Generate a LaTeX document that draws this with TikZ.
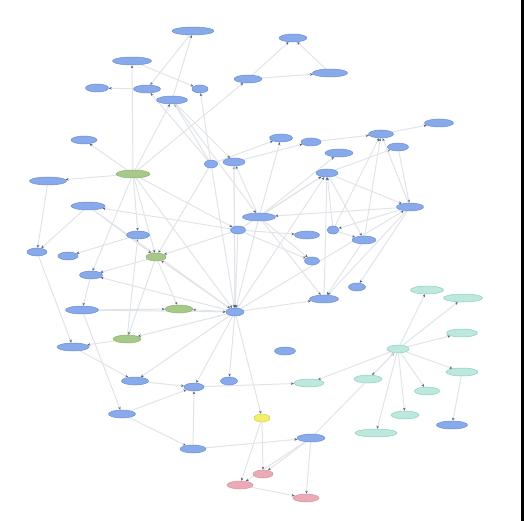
\documentclass[tikz,border=0pt]{standalone}
\usetikzlibrary{shapes.geometric,arrows.meta}
\pgfdeclarelayer{background}
\pgfsetlayers{background,main}
\definecolor{bfill}{HTML}{88AAEA}
\definecolor{bdraw}{HTML}{6C8ED6}
\definecolor{gfill}{HTML}{A6C98A}
\definecolor{gdraw}{HTML}{8DB470}
\definecolor{tfill}{HTML}{BDE8DE}
\definecolor{tdraw}{HTML}{8FCFC0}
\definecolor{pfill}{HTML}{EAAAB6}
\definecolor{pdraw}{HTML}{D8909E}
\definecolor{yfill}{HTML}{F2F06A}
\definecolor{ydraw}{HTML}{D6D24A}
\definecolor{edgec}{HTML}{E0E4E8}
\definecolor{tipc}{HTML}{55617C}
\tikzset{
  nd/.style={ellipse, inner sep=0pt, minimum height=8pt, line width=0.5pt},
  bn/.style={nd, fill=bfill, draw=bdraw},
  gn/.style={nd, fill=gfill, draw=gdraw},
  tn/.style={nd, fill=tfill, draw=tdraw},
  pn/.style={nd, fill=pfill, draw=pdraw},
  yn/.style={nd, fill=yfill, draw=ydraw},
  ed/.style={draw=edgec, line width=1pt, -{Stealth[length=3pt,width=2.6pt,color=tipc]}}
}
\begin{document}
\begin{tikzpicture}[x=1pt,y=-1pt]
\useasboundingbox (0,0) rectangle (524,521);
\fill[black] (521,0) rectangle (524,521);
% blue nodes
\node[bn, minimum width=42pt] (n1) at (193,31) {};
\node[bn, minimum width=39pt] (n2) at (132,61) {};
\node[bn, minimum width=23pt] (n3) at (97,88) {};
\node[bn, minimum width=27pt] (n4) at (147,89) {};
\node[bn, minimum width=16pt] (n5) at (200,89) {};
\node[bn, minimum width=31pt] (n6) at (172,100) {};
\node[bn, minimum width=28pt] (n7) at (248,79) {};
\node[bn, minimum width=26pt] (n8) at (84,140) {};
\node[bn, minimum width=37pt] (n9) at (48,181) {};
\node[bn, minimum width=13pt] (n10) at (211,164) {};
\node[bn, minimum width=22pt] (n11) at (234,162) {};
\node[bn, minimum width=34pt] (n12) at (88,206) {};
\node[bn, minimum width=33pt] (n13) at (259,217) {};
\node[bn, minimum width=15pt] (n14) at (238,230) {};
\node[bn, minimum width=23pt] (n15) at (138,235) {};
\node[bn, minimum width=20pt] (n16) at (37,252) {};
\node[bn, minimum width=20pt] (n17) at (68,256) {};
\node[bn, minimum width=28pt] (n18) at (293,38) {};
\node[bn, minimum width=35pt] (n19) at (330,73) {};
\node[bn, minimum width=29pt] (n20) at (439,123) {};
\node[bn, minimum width=23pt] (n21) at (281,138) {};
\node[bn, minimum width=20pt] (n22) at (311,142) {};
\node[bn, minimum width=25pt] (n23) at (381,134) {};
\node[bn, minimum width=21pt] (n24) at (398,147) {};
\node[bn, minimum width=28pt] (n25) at (339,153) {};
\node[bn, minimum width=22pt] (n26) at (327,173) {};
\node[bn, minimum width=27pt] (n27) at (410,207) {};
\node[bn, minimum width=25pt] (n29) at (307,235) {};
\node[bn, minimum width=12pt] (n30) at (333,230) {};
\node[bn, minimum width=24pt] (n31) at (364,240) {};
\node[bn, minimum width=15pt] (n32) at (312,261) {};
\node[bn, minimum width=23pt] (n33) at (91,275) {};
\node[bn, minimum width=33pt] (n34) at (82,310) {};
\node[bn, minimum width=18pt] (n35) at (235,312) {};
\node[bn, minimum width=32pt] (n36) at (73,347) {};
\node[bn, minimum width=27pt] (n37) at (135,381) {};
\node[bn, minimum width=20pt] (n38) at (194,387) {};
\node[bn, minimum width=17pt] (n39) at (229,381) {};
\node[bn, minimum width=27pt] (n40) at (122,414) {};
\node[bn, minimum width=26pt] (n41) at (193,449) {};
\node[bn, minimum width=17pt] (n42) at (357,287) {};
\node[bn, minimum width=29pt] (n43) at (324,299) {};
\node[bn, minimum width=21pt] (n44) at (285,351) {};
\node[bn, minimum width=31pt] (n45) at (452,425) {};
\node[bn, minimum width=28pt] (n46) at (311,438) {};
% green nodes
\node[gn, minimum width=34pt] (g1) at (133,174) {};
\node[gn, minimum width=20pt] (g2) at (156,257) {};
\node[gn, minimum width=28pt] (g3) at (179,309) {};
\node[gn, minimum width=28pt] (g4) at (127,339) {};
% teal nodes
\node[tn, minimum width=33pt] (t1) at (427,290) {};
\node[tn, minimum width=39pt] (t2) at (463,298) {};
\node[tn, minimum width=31pt] (t3) at (462,333) {};
\node[tn, minimum width=22pt] (t4) at (398,349) {};
\node[tn, minimum width=32pt] (t5) at (462,372) {};
\node[tn, minimum width=28pt] (t6) at (368,379) {};
\node[tn, minimum width=30pt] (t7) at (309,383) {};
\node[tn, minimum width=25pt] (t8) at (427,391) {};
\node[tn, minimum width=28pt] (t9) at (405,415) {};
\node[tn, minimum width=42pt] (t10) at (376,433) {};
% yellow and pink
\node[yn, minimum width=16pt] (y1) at (262,418) {};
\node[pn, minimum width=26pt] (r1) at (240,485) {};
\node[pn, minimum width=20pt] (r2) at (263,474) {};
\node[pn, minimum width=26pt] (r3) at (306,498) {};
\begin{pgfonlayer}{background}
\foreach \a/\b in {g1/n2,n2/n5,n4/n3,n1/n4,n6/n1,g1/n7,g1/n6,n10/n6,n10/n5,n7/n19,n7/n18,n19/n18,
  g1/n8,g1/n9,n9/n16,n12/n16,n14/n12,g1/n15,n15/n17,n10/n4,n35/n11,n13/n11,n13/n21,n11/n22,n22/n23,
  n23/n20,n26/n24,n24/n27,n13/n25,n13/n26,n35/n26,n30/n26,n43/n26,n14/n26,n26/n31,n31/n23,n27/n23,
  n30/n23,n27/n13,n6/n13,n14/n29,n30/n31,n27/n30,n13/n32,n14/n32,n27/n42,n35/n43,n13/n43,n27/n43,
  n31/n43,n10/n35,n11/n35,n14/n35,n13/n35,n35/g3,n34/g3,n34/n35,n35/g4,g1/g2,n14/g2,n35/g2,g2/n33,
  g2/g4,g2/g3,n33/n34,g1/n33,n35/n33,n34/n40,g4/n36,n16/n36,n36/n37,n37/n38,n40/n38,n35/n38,n41/n38,
  n40/n41,n41/n46,n38/t7,n35/n39,n35/y1,y1/r1,y1/r2,n46/r2,n46/r1,n46/r3,r1/r3,n46/t4,
  t4/t1,t4/t2,t4/t3,t4/t5,t4/t6,t4/t8,t4/t9,t4/t10,t4/t7,t5/n45,g1/n14,g1/n35,n35/n37,g4/n15,
  n10/n21,n6/n11,n26/n27,n35/n27,n12/n35,n10/g2,n12/g2}
  \draw[ed] (\a) -- (\b);
\end{pgfonlayer}
\end{tikzpicture}
\end{document}
